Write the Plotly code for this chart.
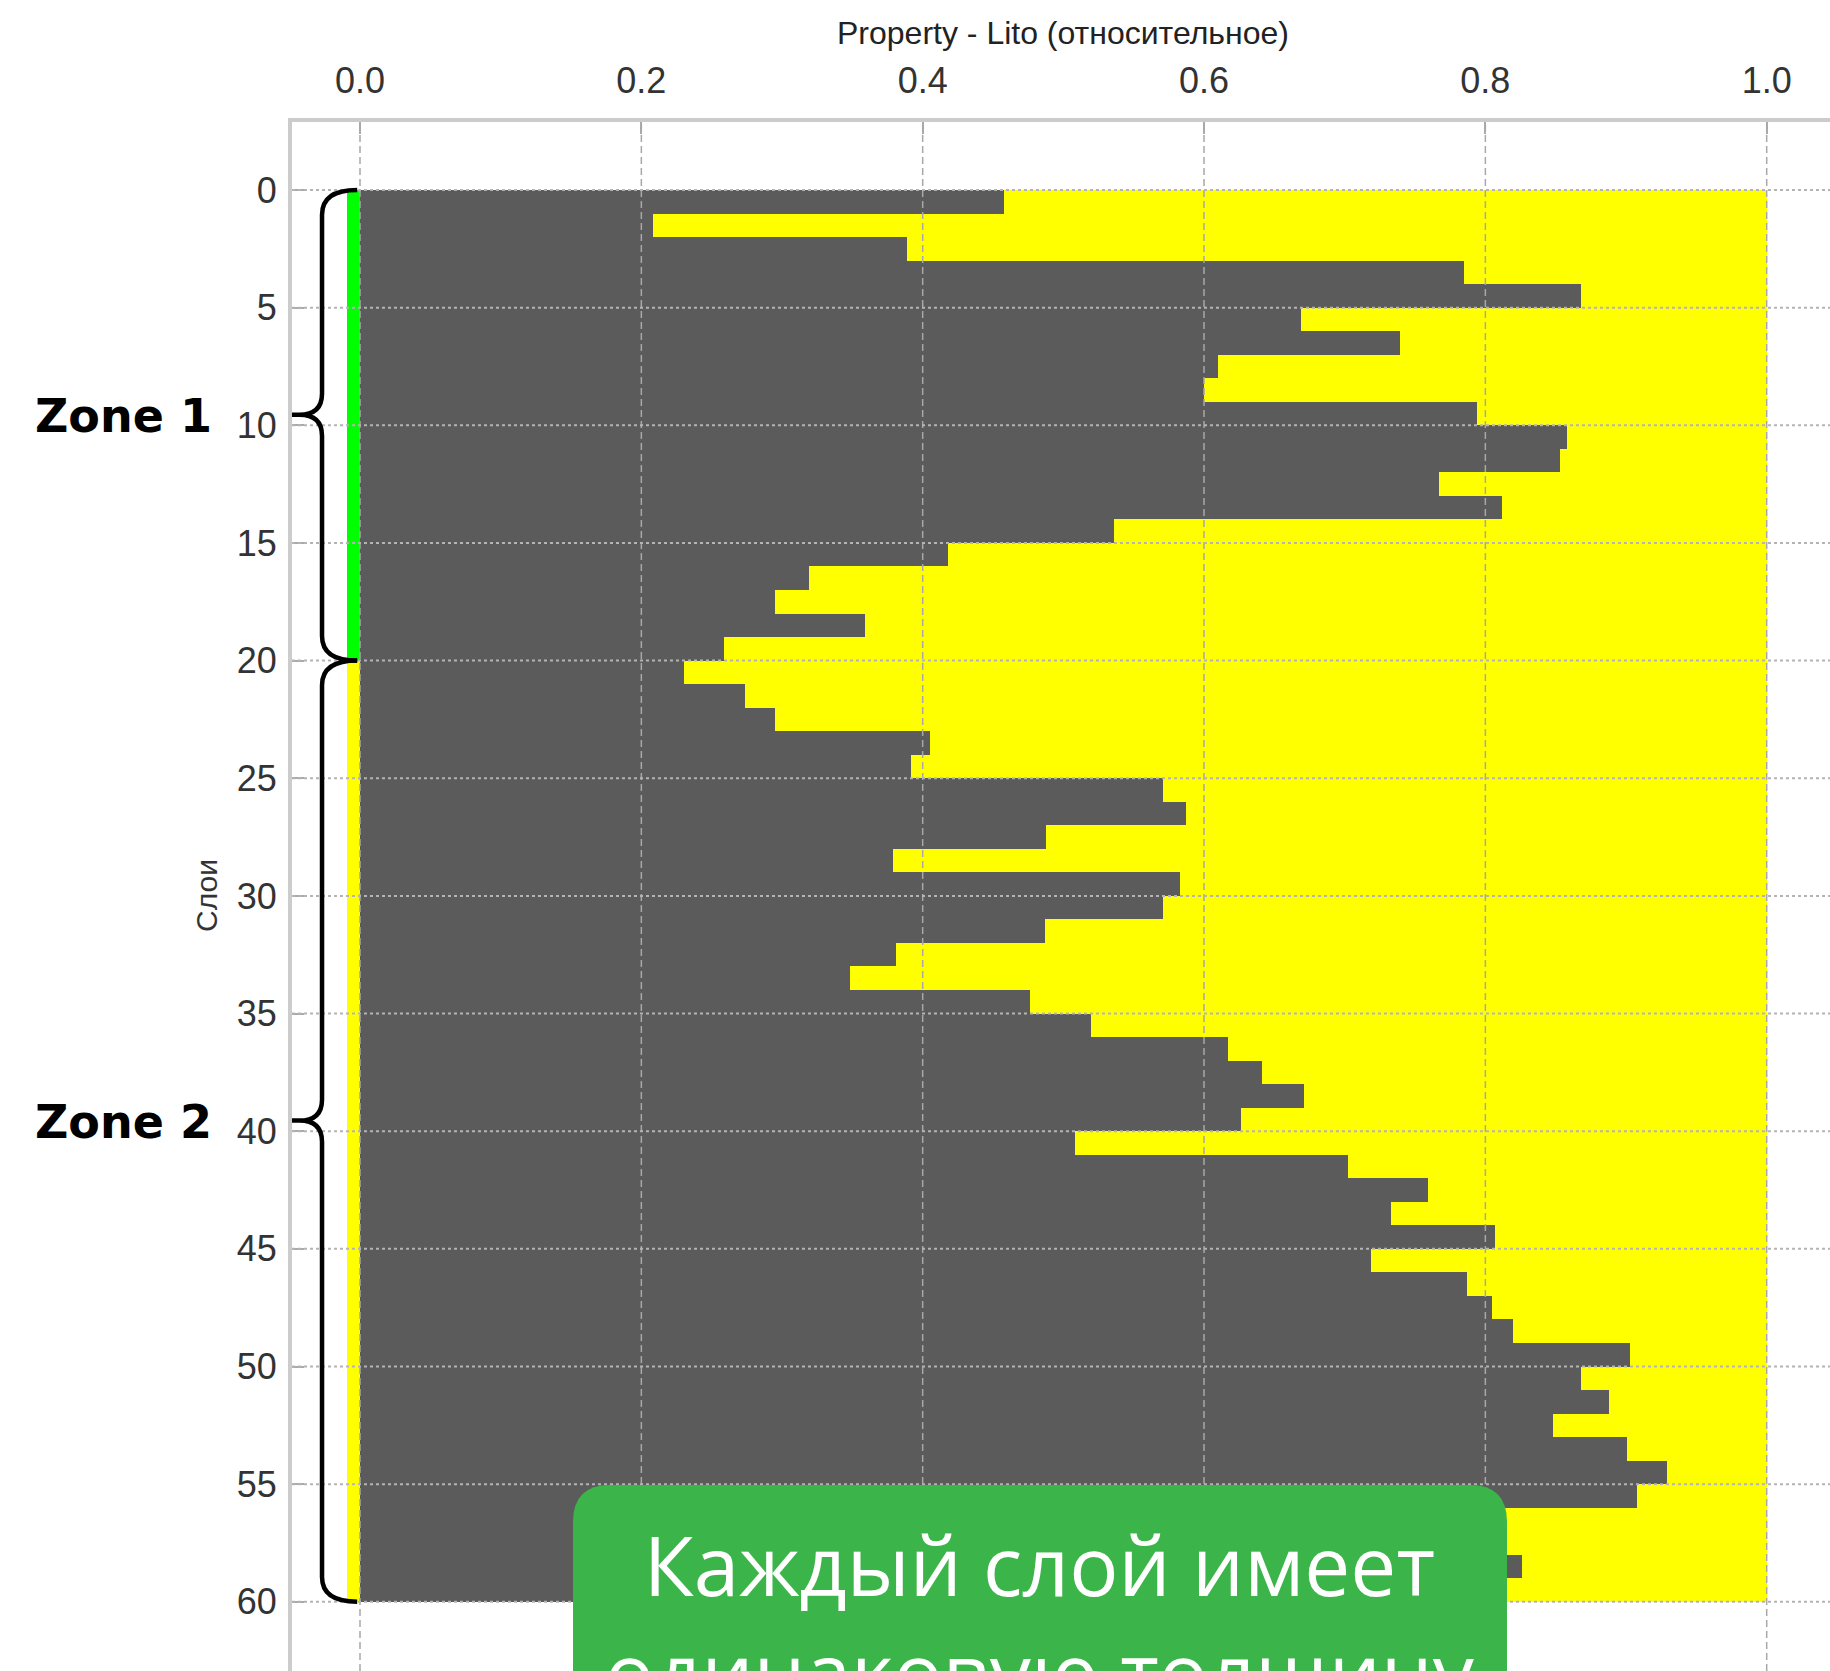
import plotly.graph_objects as go

# Relative lithology per layer (fraction of the dark class), layers 0..59 from top
layer_values = [
    0.458, 0.208, 0.389, 0.785, 0.868, 0.669, 0.739, 0.610, 0.600, 0.794,
    0.858, 0.853, 0.767, 0.812, 0.536, 0.418, 0.319, 0.295, 0.359, 0.259,
    0.230, 0.274, 0.295, 0.405, 0.392, 0.571, 0.587, 0.488, 0.379, 0.583,
    0.571, 0.487, 0.381, 0.348, 0.476, 0.520, 0.617, 0.641, 0.671, 0.626,
    0.508, 0.702, 0.759, 0.733, 0.807, 0.719, 0.787, 0.805, 0.820, 0.903,
    0.868, 0.888, 0.848, 0.901, 0.929, 0.908, 0.790, 0.800, 0.826, 0.780,
]

# Zones: name, first layer, last layer boundary, strip colour
zone_names = ["Zone 1", "Zone 2"]
zone_tops = [0, 20]
zone_bottoms = [20, 60]
zone_colors = ["#00ff00", "#ffff00"]

x_ticks = [0.0, 0.2, 0.4, 0.6, 0.8, 1.0]
x_ticktext = ["0.0", "0.2", "0.4", "0.6", "0.8", "1.0"]
y_ticks = [0, 5, 10, 15, 20, 25, 30, 35, 40, 45, 50, 55, 60]

x_title = "Property - Lito (относительное)"
y_title = "Слои"
callout_text = "Каждый слой имеет<br>одинаковую толщину"

# ---------------------------------------------------------------------------
W, H = 1830, 1671
ML, MT = 292, 122
PW, PH = W - ML, H - MT

n = len(layer_values)
centers = [i + 0.5 for i in range(n)]
full = 1.0
remainder = [full - v for v in layer_values]

strip_w = 0.0095
strip_colors = []
for i in range(n):
    for name, top, bot, col in zip(zone_names, zone_tops, zone_bottoms, zone_colors):
        if top <= i < bot:
            strip_colors.append(col)

DARK = "#5b5b5b"
YELLOW = "#ffff00"

fig = go.Figure()
fig.add_trace(go.Bar(y=centers, x=layer_values, base=0, orientation="h", width=1,
                     marker=dict(color=DARK, line=dict(width=0)), hoverinfo="skip"))
fig.add_trace(go.Bar(y=centers, x=remainder, base=layer_values, orientation="h", width=1,
                     marker=dict(color=YELLOW, line=dict(width=0)), hoverinfo="skip"))
fig.add_trace(go.Bar(y=centers, x=[strip_w] * n, base=-strip_w, orientation="h", width=1,
                     marker=dict(color=strip_colors, line=dict(width=0)), hoverinfo="skip"))

px_per_layer = 23.53
y_top = -(190 - MT) / px_per_layer
y_bot = (H - 190) / px_per_layer
px_per_unit = 1406.7
x_left = -(360 - ML) / px_per_unit
x_right = (W - 360) / px_per_unit

tick_font = dict(family="Liberation Sans Narrow, Arial Narrow, Liberation Sans", size=36, color="#333333")

fig.update_layout(
    width=W, height=H,
    margin=dict(l=ML, r=0, t=MT, b=0, pad=0),
    paper_bgcolor="white", plot_bgcolor="white",
    barmode="overlay", bargap=0, showlegend=False,
    xaxis=dict(side="top", range=[x_left, x_right], tickvals=x_ticks, ticktext=x_ticktext,
               showgrid=False, zeroline=False, showline=True, linecolor="#cccccc", linewidth=4,
               ticks="inside", ticklen=12, tickwidth=2, tickcolor="#aaaaaa",
               tickfont=tick_font, ticklabelstandoff=11, layer="above traces"),
    yaxis=dict(range=[y_bot, y_top], tickvals=y_ticks,
               showgrid=False, zeroline=False, showline=True, linecolor="#cccccc", linewidth=4,
               ticks="inside", ticklen=12, tickwidth=2, tickcolor="#aaaaaa",
               tickfont=tick_font, ticklabelstandoff=4, layer="above traces"),
)

shapes = []
# grid drawn over the bars
for t in x_ticks:
    shapes.append(dict(type="line", xref="x", yref="paper", x0=t, x1=t, y0=0, y1=1,
                       layer="above", line=dict(color="#a8a8a8", width=1.5, dash="7px,4px")))
for t in y_ticks:
    shapes.append(dict(type="line", xref="paper", yref="y", x0=0, x1=1, y0=t, y1=t,
                       layer="above", line=dict(color="#b4b4b4", width=2, dash="3px,3px")))

# curly braces marking the zones
b_end, b_spine, b_knee, b_tip = -0.002, -0.027, -0.043, -0.066
r_end, r_tip = 1.05, 0.9
for top, bot in zip(zone_tops, zone_bottoms):
    tip = (top + bot) / 2 - 0.45
    path = (f"M {b_end},{top} Q {b_spine},{top} {b_spine},{top + r_end} "
            f"L {b_spine},{tip - r_tip} Q {b_spine},{tip} {b_knee},{tip} L {b_tip},{tip} "
            f"M {b_knee},{tip} Q {b_spine},{tip} {b_spine},{tip + r_tip} "
            f"L {b_spine},{bot - r_end} Q {b_spine},{bot} {b_end},{bot}")
    shapes.append(dict(type="path", xref="x", yref="y", path=path, layer="above",
                       line=dict(color="black", width=4.5)))


def px(xp):
    return (xp - ML) / PW


def py(yp):
    return 1 - (yp - MT) / PH


# rounded callout box
bl, br, bt, bb, rad = 573, 1507, 1485, 1760, 37
box = (f"M {px(bl)},{py(bb)} L {px(bl)},{py(bt + rad)} "
       f"Q {px(bl)},{py(bt)} {px(bl + rad)},{py(bt)} "
       f"L {px(br - rad)},{py(bt)} Q {px(br)},{py(bt)} {px(br)},{py(bt + rad)} "
       f"L {px(br)},{py(bb)} Z")
shapes.append(dict(type="path", xref="paper", yref="paper", path=box, layer="above",
                   fillcolor="#3bb54a", line=dict(width=0)))
fig.update_layout(shapes=shapes)

annotations = [
    dict(text=x_title, xref="x", yref="paper", x=0.5, y=py(33), xanchor="center", yanchor="middle",
         showarrow=False, font=dict(family="Liberation Sans", size=32, color="#222222")),
    dict(text=y_title, xref="paper", yref="y", x=px(207), y=(zone_tops[0] + zone_bottoms[-1]) / 2,
         xanchor="center", yanchor="middle", textangle=-90, showarrow=False,
         font=dict(family="Liberation Sans", size=30, color="#333333")),
    dict(text=callout_text, xref="paper", yref="paper", x=px(1040), y=py(1617),
         xanchor="center", yanchor="middle", showarrow=False,
         font=dict(family="Open Sans", size=82, color="white")),
]
for name, top, bot in zip(zone_names, zone_tops, zone_bottoms):
    annotations.append(dict(text=f"<b>{name}</b>", xref="paper", yref="y", x=px(33),
                            y=(top + bot) / 2 - 0.4, xanchor="left", yanchor="middle",
                            showarrow=False,
                            font=dict(family="DejaVu Sans", size=46, color="black")))
fig.update_layout(annotations=annotations)

fig.write_html("out.html")
